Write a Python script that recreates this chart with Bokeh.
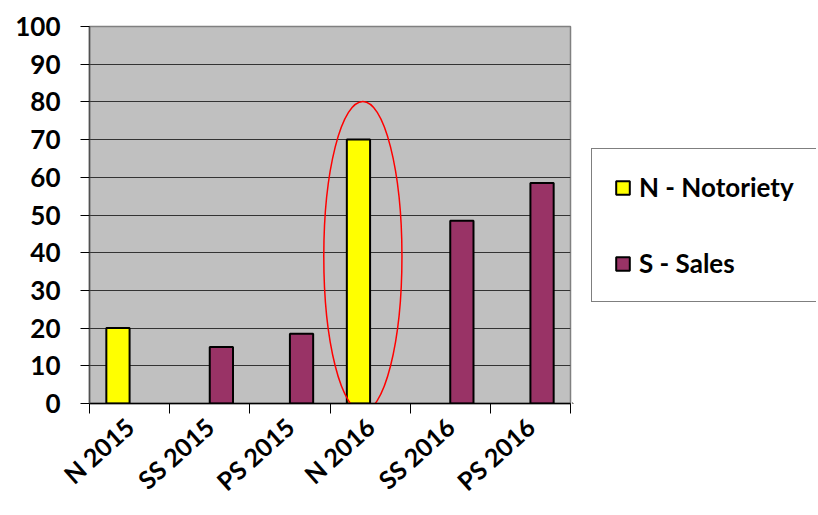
import math
from bokeh.plotting import figure
from bokeh.layouts import row
from bokeh.models import (LinearAxis, FixedTicker, Range1d, Legend, LegendItem, Grid)
from bokeh.embed import file_html
from bokeh.resources import INLINE

categories = ["N 2015", "SS 2015", "PS 2015", "N 2016", "SS 2016", "PS 2016"]
notoriety = [20, None, None, 70, None, None]
sales = [None, 15, 18.5, None, 48.5, 58.5]
series_labels = ["N - Notoriety", "S - Sales"]
y_ticks = list(range(0, 101, 10))

FONT = "Lato"
N_COLOR = "#FFFF00"
S_COLOR = "#993366"
BAR_W = 0.29
OFFSET = 0.145

p = figure(width=572, height=513, output_backend="svg",
           toolbar_location=None, x_axis_type=None, y_axis_type=None,
           x_range=Range1d(0, len(categories)), y_range=Range1d(0, 100),
           min_border_left=89, min_border_top=26, min_border_right=2,
           min_border_bottom=110)
p.background_fill_color = "#C0C0C0"
p.border_fill_color = "white"
p.outline_line_color = "#808080"
p.outline_line_width = 1.5

# y axis
ya = LinearAxis(ticker=FixedTicker(ticks=y_ticks))
ya.axis_line_color = "#505050"
ya.axis_line_width = 1.5
ya.major_tick_out = 9
ya.major_tick_in = 0
ya.major_tick_line_color = "black"
ya.minor_tick_line_color = None
ya.major_label_text_font = FONT
ya.major_label_text_font_style = "bold"
ya.major_label_text_font_size = "26px"
ya.major_label_text_color = "black"
ya.major_label_standoff = 20
p.add_layout(ya, "left")

# x axis: labels at category centres, tick marks at category boundaries
centers = [i + 0.5 for i in range(len(categories))]
bounds = list(range(len(categories) + 1))
xa = LinearAxis(ticker=FixedTicker(ticks=centers, minor_ticks=bounds))
xa.major_label_overrides = {c: lab for c, lab in zip(centers, categories)}
xa.axis_line_color = "black"
xa.axis_line_width = 1.5
xa.major_tick_line_color = None
xa.major_tick_out = 10
xa.major_tick_in = 0
xa.minor_tick_line_color = "black"
xa.minor_tick_out = 10
xa.minor_tick_in = 0
xa.major_label_orientation = math.pi / 4.3
xa.major_label_text_font = FONT
xa.major_label_text_font_style = "bold"
xa.major_label_text_font_size = "25px"
xa.major_label_text_color = "black"
xa.major_label_standoff = 9
p.add_layout(xa, "below")

# gridlines
g = Grid(dimension=1, ticker=FixedTicker(ticks=y_ticks[1:]))
g.grid_line_color = "#333333"
g.grid_line_width = 1
p.add_layout(g)

nx = [i + 0.5 - OFFSET for i, v in enumerate(notoriety) if v is not None]
ny = [v for v in notoriety if v is not None]
sx = [i + 0.5 + OFFSET for i, v in enumerate(sales) if v is not None]
sy = [v for v in sales if v is not None]

p.vbar(x=nx, top=ny, bottom=0, width=BAR_W, fill_color=N_COLOR,
       line_color="black", line_width=2)
p.vbar(x=sx, top=sy, bottom=0, width=BAR_W, fill_color=S_COLOR,
       line_color="black", line_width=2)

# highlight ellipse
ell_x, ell_y, ell_w, ell_h = 3.41, 39.0, 0.975, 82.2
p.ellipse(x=[ell_x], y=[ell_y], width=[ell_w], height=[ell_h],
          fill_color=None, line_color="#FF0000", line_width=1.5)

# legend panel
q = figure(width=244, height=513, output_backend="svg", toolbar_location=None,
           x_axis_type=None, y_axis_type=None,
           x_range=Range1d(0, 1), y_range=Range1d(0, 1),
           min_border=0)
q.outline_line_color = None
q.grid.visible = False
q.background_fill_color = "white"
# swatch renderers kept outside the visible range; only their legend glyphs show
ln = q.vbar(x=[-5], top=[-5], bottom=[-6], width=0.1, fill_color=N_COLOR,
            line_color="black", line_width=2)
ls = q.vbar(x=[-5], top=[-5], bottom=[-6], width=0.1, fill_color=S_COLOR,
            line_color="black", line_width=2)

legend = Legend(items=[LegendItem(label=series_labels[0], renderers=[ln]),
                       LegendItem(label=series_labels[1], renderers=[ls])],
                location=(19, 101))
legend.label_text_font = FONT
legend.label_text_font_style = "bold"
legend.label_text_font_size = "26px"
legend.label_text_color = "black"
legend.glyph_width = 17
legend.glyph_height = 17
legend.label_height = 32
legend.spacing = 44
legend.padding = 22
legend.label_standoff = 8
legend.border_line_color = "black"
legend.border_line_width = 1
legend.background_fill_color = "white"
legend.background_fill_alpha = 1
legend.margin = 0
q.add_layout(legend)

layout = row(p, q)
open("out.html", "w").write(file_html(layout, INLINE))
